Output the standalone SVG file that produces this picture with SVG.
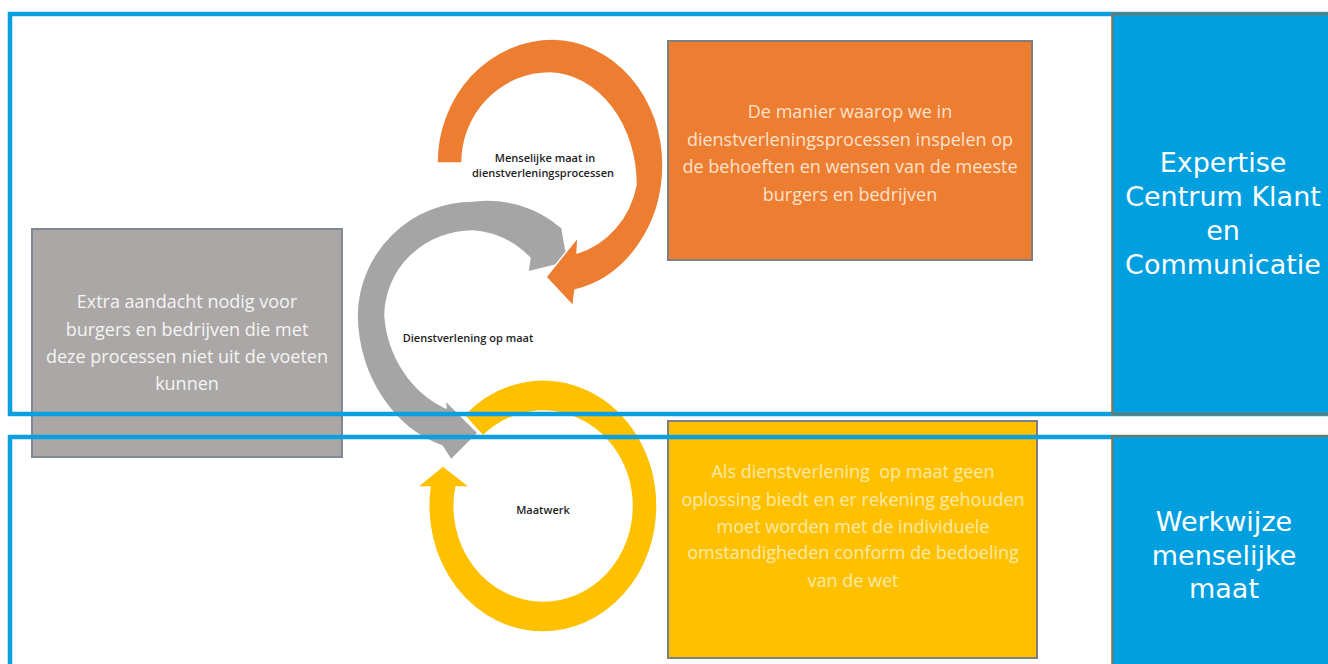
<svg xmlns="http://www.w3.org/2000/svg" width="1328" height="664" viewBox="0 0 1328 664">
<style>
.box{stroke-width:2}
.boxtxt{font-family:"Open Sans","Noto Sans",sans-serif;font-size:18px;text-anchor:middle}
.lbl{font-family:"Open Sans","Noto Sans",sans-serif;font-size:11px;font-weight:600;fill:#1e1e1e;text-anchor:middle}
.side{font-family:"DejaVu Sans","Liberation Sans",sans-serif;font-size:27px;fill:#ffffff;text-anchor:middle}
.frame{fill:none;stroke:#0a9fe0;stroke-width:4.5}
.arc{stroke:#ffffff;stroke-width:1.5;stroke-linejoin:round}
.sidebox{fill:#009fdf;stroke:#b5601f;stroke-width:1.5}
</style>
<rect width="1328" height="664" fill="#ffffff"/>

<g id="node-extra">
<rect class="box" x="32" y="229" width="310" height="228" fill="#aba7a6" stroke="#7f8894"/>
<text class="boxtxt" fill="#f4f4f4"><tspan x="187" y="308">Extra aandacht nodig voor</tspan><tspan x="187" y="336">burgers en bedrijven die met</tspan><tspan x="187" y="363">deze processen niet uit de voeten</tspan><tspan x="187" y="390">kunnen</tspan></text>
</g>

<g id="node-manier">
<rect class="box" x="668" y="41" width="364" height="219" fill="#ed7d31" stroke="#7f7f7f"/>
<text class="boxtxt" fill="#fde2cc"><tspan x="850" y="118">De manier waarop we in</tspan><tspan x="850" y="146">dienstverleningsprocessen inspelen op</tspan><tspan x="850" y="173">de behoeften en wensen van de meeste</tspan><tspan x="850" y="201">burgers en bedrijven</tspan></text>
</g>

<g id="node-maatwerk-uitleg">
<rect class="box" x="668" y="421" width="369" height="237" fill="#ffc000" stroke="#7f7f7f"/>
<text class="boxtxt" fill="#fdeaa8" style="white-space:pre"><tspan x="853" y="478">Als dienstverlening  op maat geen</tspan><tspan x="853" y="506">oplossing biedt en er rekening gehouden</tspan><tspan x="853" y="533">moet worden met de individuele</tspan><tspan x="853" y="559">omstandigheden conform de bedoeling</tspan><tspan x="853" y="587">van de wet</tspan></text>
</g>

<g id="connectors">
<path id="arc-maatwerk" class="arc" fill="#ffc000" d="M 464 415 A 114 126 0 0 1 657 506 A 114 126 0 0 1 543 632 A 114 126 0 0 1 430 487 L 417 487 L 443 466 L 470 487 L 456 487 A 89 95 0 0 0 543 601 A 89 95 0 0 0 632 506 A 89 95 0 0 0 483 436 Z"/>
<path id="arc-dienst" class="arc" fill="#a5a5a5" d="M 562 228 L 568 262 L 528 272 L 530 258 A 92 100 0 0 0 473 231 A 88 85 0 0 0 385 316 A 100 110 0 0 0 446 408 L 445 400 L 478 433 L 451 460 L 442 446 A 120 140 0 0 1 357 316 A 116 116 0 0 1 473 201 A 116 120 0 0 1 562 228 Z"/>
<path id="arc-menselijk" class="arc" fill="#ed7d31" d="M 437 163 A 116 124 0 0 1 553 39 A 112 126 0 0 1 663 165 A 110 128 0 0 1 575 290 L 573 306 L 546 277 L 578 237 L 577 253 A 82 90 0 0 0 636 185 A 88 112 0 0 0 550 73 A 88 90 0 0 0 462 163 Z"/>
</g>

<g id="labels">
<text class="lbl"><tspan x="545" y="162">Menselijke maat in</tspan><tspan x="543" y="177">dienstverleningsprocessen</tspan></text>
<text class="lbl" x="468" y="342">Dienstverlening op maat</text>
<text class="lbl" x="543" y="514">Maatwerk</text>
</g>

<g id="frames">
<rect class="frame" x="10" y="14" width="1330" height="400"/>
<rect class="frame" x="10" y="437" width="1330" height="250"/>
</g>

<g id="node-expertise">
<rect class="sidebox" x="1112" y="14" width="220" height="400"/>
<text class="side"><tspan x="1223" y="172">Expertise</tspan><tspan x="1223" y="206">Centrum Klant</tspan><tspan x="1223" y="240">en</tspan><tspan x="1223" y="274">Communicatie</tspan></text>
</g>

<g id="node-werkwijze">
<rect class="sidebox" x="1112" y="436" width="220" height="240"/>
<text class="side"><tspan x="1224" y="531">Werkwijze</tspan><tspan x="1224" y="565">menselijke</tspan><tspan x="1224" y="598">maat</tspan></text>
</g>
</svg>
